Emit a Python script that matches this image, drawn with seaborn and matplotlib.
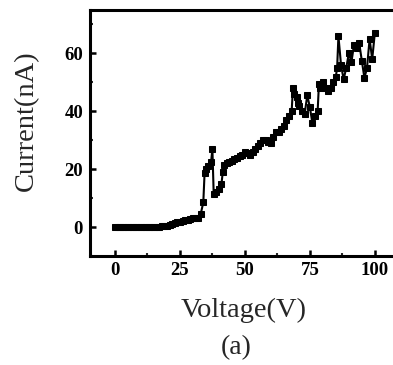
import matplotlib
matplotlib.use("Agg")
import matplotlib.pyplot as plt
import seaborn as sns
import pandas as pd
from matplotlib.ticker import MultipleLocator

voltage = [0, 1, 2, 3, 4, 5, 6, 7, 8, 9, 10, 11, 12, 13, 14, 15, 16, 17,
           18, 19, 20, 21, 22, 23, 24, 25, 26, 27, 28, 29, 30, 31, 32, 33,
           34, 34.5, 35, 36, 37, 37.5, 38, 39, 40, 41, 41.5, 42, 43, 44, 45,
           46, 47, 48, 49, 50, 51, 52, 53, 54, 55, 56, 57, 58, 59, 60, 61,
           62, 63, 64, 65, 66, 67, 68, 68.5, 69, 70, 70.5, 71, 72, 73, 74,
           75, 76, 77, 78, 78.5, 79, 80, 81, 82, 83, 84, 85, 85.5, 86, 87,
           88, 89, 90, 91, 92, 93, 94, 95, 96, 97, 98, 99, 100]
current = [0, 0, 0, 0, 0, 0, 0, 0, 0, 0, 0, 0, 0, 0, 0, 0, 0.1, 0.1,
           0.2, 0.3, 0.5, 0.8, 1.0, 1.3, 1.6, 1.8, 2.0, 2.3, 2.6, 2.8, 3.0, 3.1, 3.0, 4.5,
           8.5, 18.8, 20, 21, 22.5, 27, 11.5, 12, 13, 15, 19, 21.5, 22, 22.5, 23,
           23.5, 24, 24.5, 25, 26, 25.5, 25, 26, 27, 28, 29, 30, 30, 29.5, 29, 31,
           33, 33, 34, 35, 37, 38.5, 40, 48, 46, 45, 43, 42, 40, 39, 45.5,
           41.5, 35.8, 38.5, 40, 49.5, 48, 50, 48, 47, 48, 50, 52, 55, 66, 56,
           51, 55, 60, 57, 63, 62, 63.5, 57.5, 51.5, 55, 65, 58, 67]

df = pd.DataFrame({"Voltage": voltage, "Current": current})

sns.set_theme(style="white")
plt.rcParams["font.family"] = ["Liberation Serif", "DejaVu Serif"]

fig = plt.figure(figsize=(3.93, 3.65), dpi=100)
ax = fig.add_axes([0.229, 0.2986, 0.771, 0.674])

sns.lineplot(data=df, x="Voltage", y="Current", ax=ax, color="black",
             linewidth=1.5, marker="s", markersize=4.5, markeredgecolor="black",
             estimator=None, sort=False)

ax.set_xlim(-9.6, 107)
ax.set_ylim(-10, 75)
ax.set_xticks([0, 25, 50, 75, 100])
ax.set_yticks([0, 20, 40, 60])
ax.xaxis.set_minor_locator(MultipleLocator(12.5))
ax.yaxis.set_minor_locator(MultipleLocator(10))

for side in ["left", "bottom", "top"]:
    ax.spines[side].set_linewidth(2.2)
    ax.spines[side].set_color("black")
ax.spines["right"].set_visible(False)

ax.tick_params(which="major", direction="in", length=4, width=1.8,
               labelsize=13.5, pad=4, colors="black",
               top=False, right=False, bottom=True, left=True)
ax.tick_params(which="minor", direction="in", length=2.5, width=1.5,
               top=False, right=False, bottom=True, left=True)
ax.tick_params(axis="y", which="major", pad=5)
for lbl in ax.get_xticklabels() + ax.get_yticklabels():
    lbl.set_fontweight("bold")

ax.set_xlabel("")
ax.set_ylabel("Current(nA)", fontsize=20.5)
ax.yaxis.set_label_coords((39 - 90) / 303, (256 - 121) / 246)
fig.text(244 / 393, 1 - 310 / 365, "Voltage(V)", ha="center", va="center", fontsize=20.5)
fig.text(236 / 393, 1 - 348 / 365, "(a)", ha="center", va="center", fontsize=20)

fig.savefig("out.png", dpi=100)
